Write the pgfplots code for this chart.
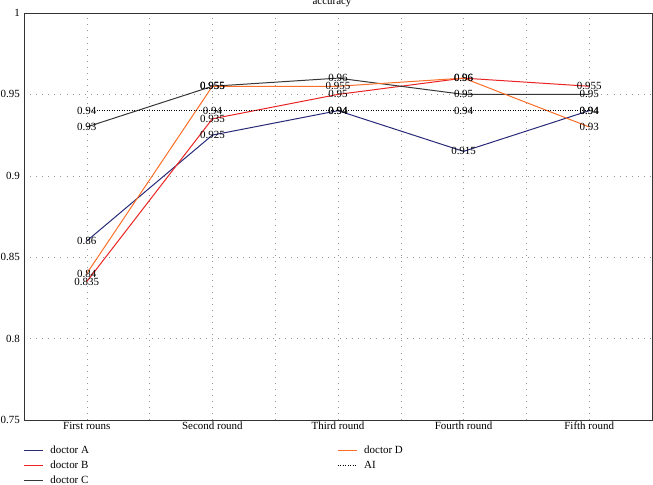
\documentclass[border=0pt]{standalone}
\usepackage{pgfplots}
\pgfplotsset{compat=1.18}
\usepackage{fontspec}
\setmainfont{Liberation Serif}
\definecolor{cA}{RGB}{40,42,120}
\definecolor{cB}{RGB}{235,35,35}
\definecolor{cC}{RGB}{55,55,55}
\definecolor{cD}{RGB}{250,110,40}
\definecolor{gridc}{RGB}{150,150,150}
\newcommand{\ft}{\fontsize{11}{13}\selectfont}
\begin{document}
\begin{tikzpicture}
\begin{axis}[
  scale only axis, width=628bp, height=407bp,
  xmin=-0.5, xmax=4.5, ymin=0.75, ymax=1,
  xtick={0,1,2,3,4},
  xticklabels={First rouns, Second round, Third round, Fourth round, Fifth round},
  minor xtick={0.5,1.5,2.5,3.5},
  ytick={0.75,0.8,0.85,0.9,0.95,1},
  grid=both,
  major grid style={gridc, line width=0.6pt, dash pattern=on 0.6pt off 5.5pt},
  minor grid style={gridc, line width=0.6pt, dash pattern=on 0.6pt off 5.5pt},
  major tick length=0pt, minor tick length=0pt,
  axis line style={black!80, line width=0.9pt},
  /pgf/number format/assume math mode=true,
  tick label style={font=\ft, black},
  yticklabel style={inner sep=0pt, xshift=-4bp},
  xticklabel style={inner sep=2pt},
  title={accuracy},
  title style={font=\ft, at={(0.5,1)}, anchor=base, yshift=2.5bp, xshift=-6bp, inner sep=0pt},
  nodes near coords={\pgfmathprintnumber[fixed,precision=3,assume math mode=true]{\pgfplotspointmeta}},
  nodes near coords align={center},
  every node near coord/.append style={font=\ft, black, anchor=center, inner sep=0pt},
  legend columns=2,
  legend cell align=left,
  legend style={draw=none, fill=none, at={(0,0)}, anchor=north west, xshift=-1bp, yshift=-23bp,
    inner sep=0pt, column sep=7bp, row sep=0pt, font=\ft,
    nodes={inner xsep=0pt, inner ysep=2pt, text height=8.5bp, text depth=2.5bp},
    /tikz/every even column/.append style={column sep=248bp}},
  legend image code/.code={\draw[#1] (0bp,0bp) -- (19bp,0bp);},
]
\addplot[cA, line width=1pt, forget plot] coordinates {(0,0.86)(1,0.925)(2,0.94)(3,0.915)(4,0.94)};
\addplot[cB, line width=1pt, forget plot] coordinates {(0,0.835)(1,0.935)(2,0.95)(3,0.96)(4,0.955)};
\addplot[cC, line width=1pt, forget plot] coordinates {(0,0.93)(1,0.955)(2,0.96)(3,0.95)(4,0.95)};
\addplot[cD, line width=1pt, forget plot] coordinates {(0,0.84)(1,0.955)(2,0.955)(3,0.96)(4,0.93)};
\addplot[black, line width=0.8pt, dash pattern=on 1pt off 1.5pt, forget plot] coordinates {(0,0.94)(1,0.94)(2,0.94)(3,0.94)(4,0.94)};
\addlegendimage{cA, line width=1.2pt}\addlegendentry{doctor A}
\addlegendimage{cD, line width=1.2pt}\addlegendentry{doctor D}
\addlegendimage{cB, line width=1.2pt}\addlegendentry{doctor B}
\addlegendimage{black, line width=0.8pt, dash pattern=on 1pt off 1.5pt}\addlegendentry{AI}
\addlegendimage{cC, line width=1.2pt}\addlegendentry{doctor C}
\coordinate (bl) at (rel axis cs:0,0);
\coordinate (tr) at (rel axis cs:1,1);
\end{axis}
\pgfresetboundingbox
\path[use as bounding box] ([shift={(-24bp,-64bp)}]bl) rectangle ([shift={(1bp,13bp)}]tr);
\end{tikzpicture}
\end{document}
